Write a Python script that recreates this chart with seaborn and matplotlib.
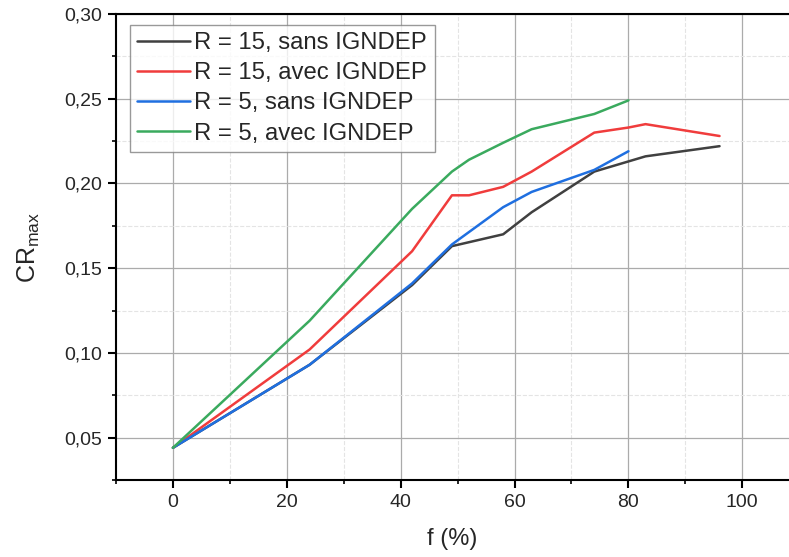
import pandas as pd
import matplotlib.pyplot as plt
import matplotlib.ticker as mticker
import seaborn as sns
import numpy as np

sns.set_theme(style="white")
plt.rcParams['font.family'] = ['Liberation Sans', 'DejaVu Sans']

# --- data ---
series_names = ['R = 15, sans IGNDEP', 'R = 15, avec IGNDEP',
                'R = 5, sans IGNDEP', 'R = 5, avec IGNDEP']

f_r15_sans = [0, 24, 42, 49, 58, 63, 74, 83, 96]
cr_r15_sans = [0.044, 0.093, 0.140, 0.163, 0.170, 0.183, 0.207, 0.216, 0.222]

f_r15_avec = [0, 24, 42, 49, 52, 58, 63, 74, 80, 83, 96]
cr_r15_avec = [0.044, 0.102, 0.160, 0.193, 0.193, 0.198, 0.207, 0.230, 0.233, 0.235, 0.228]

f_r5_sans = [0, 24, 42, 49, 58, 63, 74, 80]
cr_r5_sans = [0.044, 0.093, 0.141, 0.164, 0.186, 0.195, 0.208, 0.219]

f_r5_avec = [0, 24, 42, 49, 52, 58, 63, 74, 80]
cr_r5_avec = [0.044, 0.119, 0.185, 0.207, 0.214, 0.224, 0.232, 0.241, 0.249]

colors = ['#404040', '#f03c3c', '#1f6fe0', '#3aaa5e']

frames = []
for name, fx, cy in zip(series_names,
                        [f_r15_sans, f_r15_avec, f_r5_sans, f_r5_avec],
                        [cr_r15_sans, cr_r15_avec, cr_r5_sans, cr_r5_avec]):
    frames.append(pd.DataFrame({'f': fx, 'CR': cy, 'Serie': name}))
df = pd.concat(frames, ignore_index=True)

# --- plot ---
fig = plt.figure(figsize=(7.89, 5.57), dpi=100)
ax = fig.add_axes([116 / 789, 1 - 480 / 557, 1 - 116 / 789, (480 - 14) / 557])

sns.lineplot(data=df, x='f', y='CR', hue='Serie', palette=colors,
             hue_order=series_names, sort=False, estimator=None,
             linewidth=1.8, ax=ax, zorder=3)

ax.set_xlim(-10, 108.2)
ax.set_ylim(0.025, 0.30)

ax.xaxis.set_major_locator(mticker.MultipleLocator(20))
ax.xaxis.set_minor_locator(mticker.MultipleLocator(10))
ax.yaxis.set_major_locator(mticker.MultipleLocator(0.05))
ax.yaxis.set_minor_locator(mticker.MultipleLocator(0.025))
ax.xaxis.set_major_formatter(mticker.FuncFormatter(lambda v, p: f"{v:.0f}"))
ax.yaxis.set_major_formatter(mticker.FuncFormatter(lambda v, p: f"{v:.2f}".replace('.', ',')))

# grid: solid major, dashed minor
ax.grid(True, which='major', color='#ababab', linewidth=0.9, linestyle='-')
ax.grid(True, which='minor', color='#e4e4e4', linewidth=0.8, linestyle='--')
ax.set_axisbelow(True)

for side in ['left', 'bottom', 'top']:
    ax.spines[side].set_visible(True)
    ax.spines[side].set_color('black')
    ax.spines[side].set_linewidth(1.5)
ax.spines['right'].set_visible(False)

ax.tick_params(which='major', direction='out', length=6, width=1.5,
               labelsize=14, left=True, bottom=True, color='black', pad=4)
ax.tick_params(which='minor', direction='out', length=3.2, width=1.2,
               left=True, bottom=True, color='black')

ax.set_xlabel('f (%)', fontsize=17, labelpad=12)
ax.set_ylabel(r'CR$_{\mathregular{max}}$', fontsize=18, labelpad=16)

leg = ax.legend(loc='upper left', bbox_to_anchor=(14 / 673, 1 - 11 / 466), fontsize=17.2,
                frameon=True, fancybox=False, edgecolor='#808080',
                handlelength=2.2, handletextpad=0.2, labelspacing=0.34,
                borderpad=0.3, borderaxespad=0.0)
leg.get_frame().set_linewidth(1.0)
leg.set_title(None)

fig.savefig('out.png', dpi=100)
